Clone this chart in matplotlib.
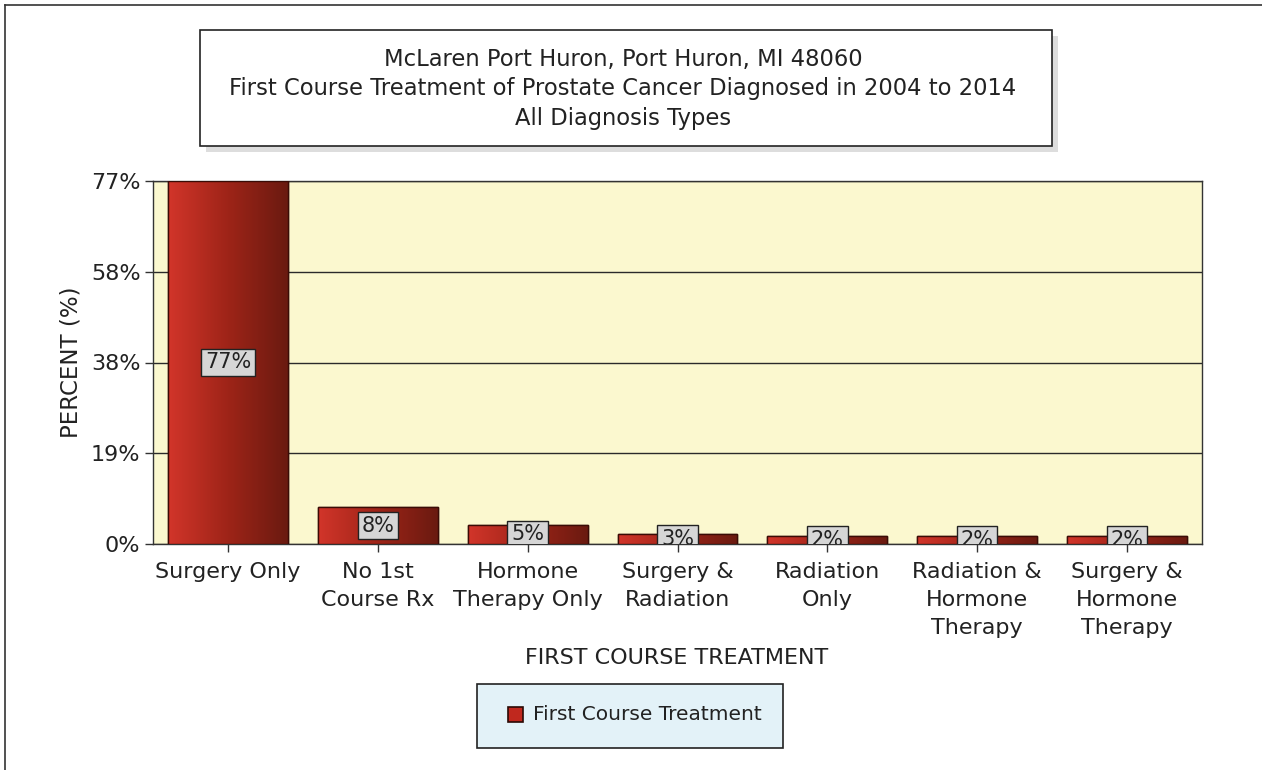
"""Prostate cancer first-course treatment bar chart (McLaren Port Huron)."""

import matplotlib
matplotlib.use("Agg")
import matplotlib.pyplot as plt
import numpy as np
from matplotlib.patches import Rectangle
from matplotlib.lines import Line2D

# ---- data ----
categories = ["Surgery Only", "No 1st\nCourse Rx", "Hormone\nTherapy Only",
              "Surgery &\nRadiation", "Radiation\nOnly", "Radiation &\nHormone\nTherapy",
              "Surgery &\nHormone\nTherapy"]
percent = [77, 7.8, 4.1, 2.2, 1.7, 1.7, 1.7]
bar_labels = ["77%", "8%", "5%", "3%", "2%", "2%", "2%"]
ytick_vals = [0, 19.25, 38.5, 57.75, 77]
ytick_labels = ["0%", "19%", "38%", "58%", "77%"]
title_lines = ["McLaren Port Huron, Port Huron, MI 48060",
               "First Course Treatment of Prostate Cancer Diagnosed in 2004 to 2014",
               "All Diagnosis Types"]
series_name = "First Course Treatment"

W, H = 1262, 770
FS = 16
TXT = "#222222"
plt.rcParams["font.family"] = "DejaVu Sans"

fig = plt.figure(figsize=(W / 100, H / 100), dpi=100)


def fx(px):
    return px / W


def fy(py):
    return 1 - py / H


# outer frame (top + left only)
fig.add_artist(Line2D([fx(5), 1], [fy(5), fy(5)], color="#333333", lw=1.2))
fig.add_artist(Line2D([fx(5), fx(5)], [0, fy(5)], color="#333333", lw=1.2))

# title box with shadow
fig.add_artist(Rectangle((fx(206), fy(152)), fx(852), fy(30) - fy(146),
                         transform=fig.transFigure, facecolor="#dddddd", edgecolor="none"))
fig.add_artist(Rectangle((fx(200), fy(146)), fx(852), fy(30) - fy(146),
                         transform=fig.transFigure, facecolor="white", edgecolor="#222222", lw=1.2))
fig.text(fx(623), fy(89), "\n".join(title_lines), ha="center", va="center",
         fontsize=16.3, color=TXT, linespacing=1.36)

# ---- main axes ----
ax = fig.add_axes([fx(153), fy(544), fx(1202) - fx(153), fy(181) - fy(544)])
ax.set_facecolor("#fbf8cf")
x = np.arange(len(categories))
bars = ax.bar(x, percent, width=0.8, color="#b52a1e", edgecolor="#3a0c06",
              linewidth=1.0, zorder=3)

# horizontal gradient on each bar
grad = np.linspace(0, 1, 256).reshape(1, -1)
cmap = matplotlib.colors.LinearSegmentedColormap.from_list(
    "bar", ["#d2352a", "#9e2418", "#6a1a10"])
for b in bars:
    im = ax.imshow(grad, cmap=cmap, aspect="auto", zorder=3.5,
                   extent=[b.get_x(), b.get_x() + b.get_width(), 0, b.get_height()])
    im.set_clip_path(b)
    outline = Rectangle((b.get_x(), 0), b.get_width(), b.get_height(),
                        facecolor="none", edgecolor="#3a0c06", lw=1.0, zorder=3.6)
    ax.add_patch(outline)

for xi, v, lab in zip(x, percent, bar_labels):
    ax.text(xi, v / 2, lab, ha="center", va="center", fontsize=15, color=TXT,
            zorder=5, clip_on=True,
            bbox=dict(boxstyle="square,pad=0.18", facecolor="#d6d6d6",
                      edgecolor="#222222", lw=1.0))

ax.set_xlim(-0.5, len(categories) - 0.5)
ax.set_ylim(0, 77)
ax.set_yticks(ytick_vals)
ax.set_yticklabels(ytick_labels)
ax.set_xticks(x)
ax.set_xticklabels(categories, linespacing=1.5, va="top")
ax.yaxis.grid(True, color="#2a2a2a", lw=1.0, zorder=1)
ax.set_axisbelow(True)
ax.tick_params(axis="both", direction="out", length=6, width=1.0, color="#333333",
               labelsize=FS, labelcolor=TXT)
ax.tick_params(axis="x", pad=7)
ax.tick_params(axis="y", pad=3)
for sp in ax.spines.values():
    sp.set_color("#333333")
    sp.set_linewidth(1.0)

ax.set_ylabel("PERCENT (%)", fontsize=16.5, color=TXT, labelpad=6)
fig.text(fx(677), fy(658), "FIRST COURSE TREATMENT", ha="center", va="center",
         fontsize=FS, color=TXT)

# legend box
fig.add_artist(Rectangle((fx(477), fy(748)), fx(306), fy(684) - fy(748),
                         transform=fig.transFigure, facecolor="#e3f2f8",
                         edgecolor="#222222", lw=1.2))
fig.add_artist(Rectangle((fx(508), fy(722)), fx(15), fy(707) - fy(722),
                         transform=fig.transFigure, facecolor="#c0281e",
                         edgecolor="#2a0a05", lw=1.2))
fig.text(fx(533), fy(715), series_name, ha="left", va="center",
         fontsize=14.5, color=TXT)

fig.savefig("out.png", dpi=100)
